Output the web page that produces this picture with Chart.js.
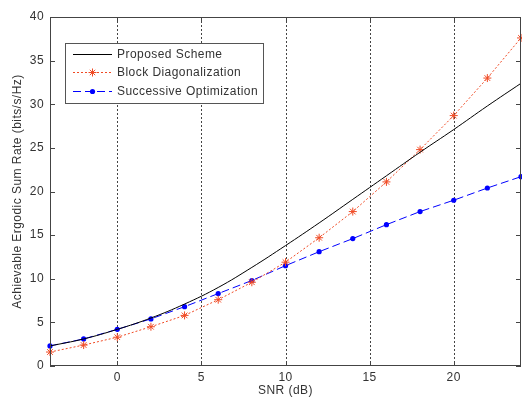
<!DOCTYPE html>
<html>
<head>
<meta charset="utf-8">
<script src="https://cdn.jsdelivr.net/npm/chart.js@4.4.1/dist/chart.umd.min.js"></script>
<style>
  html, body { margin: 0; padding: 0; background: #fff; }
  #wrap { width: 522px; height: 398px; position: relative; }
</style>
</head>
<body>
<div id="wrap"><canvas id="chart" width="522" height="398"></canvas></div>
<script>
// ============ Data ============

const snr = [-4, -2, 0, 2, 4, 6, 8, 10, 12, 14, 16, 18, 20, 22, 24];
const proposed = [2.3, 3.1, 4.2, 5.5, 7.1, 9.0, 11.3, 13.8, 16.4, 19.1, 21.8, 24.5, 27.1, 29.8, 32.4];
const blockDiag = [1.6, 2.4, 3.3, 4.5, 5.8, 7.6, 9.6, 11.9, 14.7, 17.7, 21.1, 24.8, 28.7, 33.0, 37.6];
const successive = [2.3, 3.1, 4.2, 5.4, 6.8, 8.3, 9.8, 11.5, 13.1, 14.6, 16.2, 17.7, 19.0, 20.4, 21.7];
const xTicks = [0, 5, 10, 15, 20];
const yTicks = [0, 5, 10, 15, 20, 25, 30, 35, 40];
const seriesNames = ['Proposed Scheme', 'Block Diagonalization', 'Successive Optimization'];

const FONT = 'Liberation Sans, Arial, sans-serif';
const TEXT = '#333';
const RED = '#f04a24';
const BLUE = '#0000ff';

function pts(ys) {
    return snr.map((x, i) => ({ x: x, y: ys[i] }));
}

// ============ Plugins ============

// MATLAB style box, inward ticks, dotted vertical grid and legend
const framePlugin = {
    id: 'frame',
    beforeDraw(chart) {
        // slightly wider text like the original export
        chart.ctx.letterSpacing = '0.45px';
    },
    beforeDatasetsDraw(chart) {
        const { ctx, chartArea: a, scales } = chart;
        ctx.save();
        ctx.strokeStyle = '#444';
        ctx.lineWidth = 1;
        ctx.setLineDash([2, 2]);
        xTicks.forEach(v => {
            const px = Math.round(scales.x.getPixelForValue(v)) + 0.5;
            ctx.beginPath();
            ctx.moveTo(px, a.top);
            ctx.lineTo(px, a.bottom);
            ctx.stroke();
        });
        ctx.restore();
    },
    afterDraw(chart) {
        const { ctx, chartArea: a, scales } = chart;
        ctx.save();
        ctx.strokeStyle = '#444';
        ctx.lineWidth = 1;
        ctx.setLineDash([]);
        ctx.strokeRect(a.left + 0.5, a.top + 0.5, a.right - a.left - 1, a.bottom - a.top - 1);
        yTicks.forEach(v => {
            const py = Math.round(scales.y.getPixelForValue(v)) + 0.5;
            ctx.beginPath();
            ctx.moveTo(a.left, py); ctx.lineTo(a.left + 5, py);
            ctx.moveTo(a.right, py); ctx.lineTo(a.right - 5, py);
            ctx.stroke();
        });
        xTicks.forEach(v => {
            const px = Math.round(scales.x.getPixelForValue(v)) + 0.5;
            ctx.beginPath();
            ctx.moveTo(px, a.bottom); ctx.lineTo(px, a.bottom - 5);
            ctx.moveTo(px, a.top); ctx.lineTo(px, a.top + 5);
            ctx.stroke();
        });

        // legend box
        const lx = 65, ly = 43, lw = 198, lh = 60;
        ctx.fillStyle = '#fff';
        ctx.fillRect(lx, ly, lw, lh);
        ctx.strokeStyle = '#555';
        ctx.strokeRect(lx + 0.5, ly + 0.5, lw, lh);
        const rows = [54, 72, 91];
        const styles = [
            { color: '#000', dash: [] },
            { color: RED, dash: [2, 2] },
            { color: BLUE, dash: [8, 4] }
        ];
        rows.forEach((ry, i) => {
            ctx.strokeStyle = styles[i].color;
            ctx.setLineDash(styles[i].dash);
            ctx.beginPath();
            ctx.moveTo(73, ry + 0.5);
            ctx.lineTo(112, ry + 0.5);
            ctx.stroke();
            ctx.setLineDash([]);
            if (i === 1) {
                ctx.beginPath();
                ctx.moveTo(92.5, ry - 3.5); ctx.lineTo(92.5, ry + 4.5);
                ctx.moveTo(88.5, ry + 0.5); ctx.lineTo(96.5, ry + 0.5);
                ctx.moveTo(89.8, ry - 2.2); ctx.lineTo(95.2, ry + 3.2);
                ctx.moveTo(95.2, ry - 2.2); ctx.lineTo(89.8, ry + 3.2);
                ctx.stroke();
            }
            if (i === 2) {
                ctx.fillStyle = BLUE;
                ctx.beginPath();
                ctx.arc(92.5, ry + 0.5, 2.6, 0, Math.PI * 2);
                ctx.fill();
            }
            ctx.fillStyle = TEXT;
            ctx.font = '12px ' + FONT;
            ctx.textBaseline = 'middle';
            ctx.textAlign = 'left';
            ctx.fillText(seriesNames[i], 117, ry + 1);
        });
        ctx.restore();
    }
};

// ============ Chart ============

new Chart(document.getElementById('chart'), {
    type: 'line',
    data: {
        datasets: [
            {
                label: seriesNames[0],
                data: pts(proposed),
                borderColor: '#000',
                borderWidth: 1,
                pointRadius: 0,
                tension: 0.4
            },
            {
                label: seriesNames[1],
                data: pts(blockDiag),
                borderColor: RED,
                borderWidth: 1,
                borderDash: [2, 2],
                pointStyle: 'star',
                pointRadius: 4,
                pointBorderColor: RED,
                pointBorderWidth: 1,
                pointBackgroundColor: RED
            },
            {
                label: seriesNames[2],
                data: pts(successive),
                borderColor: BLUE,
                borderWidth: 1,
                borderDash: [8, 4],
                pointStyle: 'circle',
                pointRadius: 2.6,
                pointBorderWidth: 0,
                pointBackgroundColor: BLUE
            }
        ]
    },
    options: {
        responsive: false,
        animation: false,
        clip: false,
        layout: { autoPadding: false, padding: { top: 17, right: 1, left: 0, bottom: 0 } },
        plugins: {
            legend: { display: false },
            tooltip: { enabled: false }
        },
        scales: {
            x: {
                type: 'linear',
                min: -4,
                max: 24,
                afterBuildTicks: s => { s.ticks = xTicks.map(v => ({ value: v })); },
                afterFit: s => { s.height = 32; s.paddingLeft = 0; s.paddingRight = 0; },
                grid: { display: false, drawTicks: false },
                border: { display: false },
                ticks: { color: TEXT, font: { family: FONT, size: 12 }, padding: 4, maxRotation: 0 },
                title: {
                    display: true,
                    text: 'SNR (dB)',
                    color: TEXT,
                    font: { family: FONT, size: 12 },
                    padding: { top: 0, bottom: 0 }
                }
            },
            y: {
                min: 0,
                max: 40,
                afterBuildTicks: s => { s.ticks = yTicks.map(v => ({ value: v })); },
                afterFit: s => { s.width = 50; s.paddingTop = 0; s.paddingBottom = 0; },
                grid: { display: false, drawTicks: false },
                border: { display: false },
                ticks: { color: TEXT, font: { family: FONT, size: 12 }, padding: 6 },
                title: {
                    display: true,
                    text: 'Achievable Ergodic Sum Rate (bits/s/Hz)',
                    color: TEXT,
                    font: { family: FONT, size: 12 },
                    padding: { top: 10, bottom: 0 }
                }
            }
        }
    },
    plugins: [framePlugin]
});
</script>
</body>
</html>
